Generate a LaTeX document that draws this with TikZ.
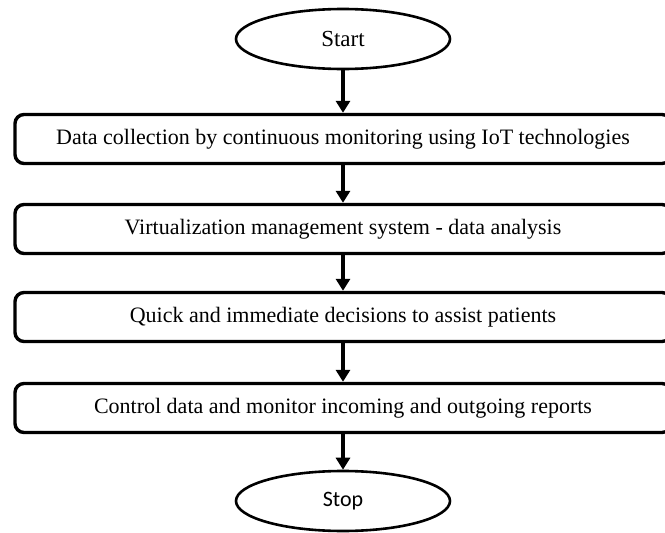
\documentclass[tikz,border=0pt]{standalone}
\usepackage{fontspec}
\setmainfont{Liberation Serif}
\newfontfamily\stopfont{Carlito}
\usetikzlibrary{shapes.geometric, arrows.meta}

\tikzset{
	terminal/.style={draw, ellipse, line width=2.6pt, minimum width=214pt, minimum height=60pt, inner sep=0pt},
	process/.style={draw, rounded corners=9pt, line width=3.4pt, minimum width=656pt, minimum height=49pt, inner sep=0pt, font=\fontsize{22}{26}\selectfont},
	flow/.style={line width=3.4pt, -{Triangle[length=12pt, width=14pt]}}
}

\begin{document}
\begin{tikzpicture}[x=1pt, y=-1pt]
			\useasboundingbox (0,0) rectangle (665,533);
			
			\node[terminal, font=\fontsize{23}{26}\selectfont] (start) at (343,39) {Start};
			\node[process] (collect) at (343,139) {Data collection by continuous monitoring using IoT technologies};
			\node[process] (analysis) at (343,229) {Virtualization management system - data analysis};
			\node[process] (decide) at (343,317) {Quick and immediate decisions to assist patients};
			\node[process] (control) at (343,408) {Control data and monitor incoming and outgoing reports};
			\node[terminal, font=\stopfont\fontsize{22}{26}\selectfont] (stop) at (343,501) {Stop};
			
			\draw[flow] (start) -- (collect);
			\draw[flow] (collect) -- (analysis);
			\draw[flow] (analysis) -- (decide);
			\draw[flow] (decide) -- (control);
			\draw[flow] (control) -- (stop);
\end{tikzpicture}
\end{document}
